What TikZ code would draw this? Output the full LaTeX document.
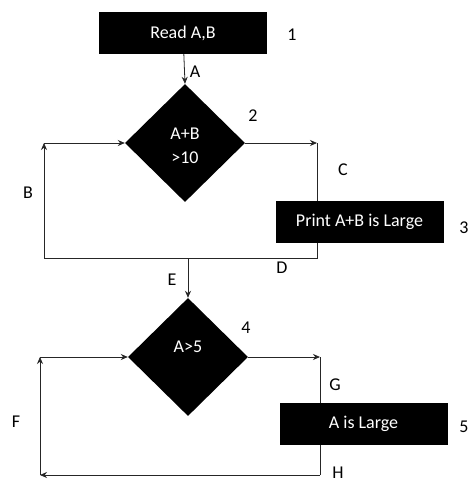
\documentclass[tikz,border=0pt]{standalone}
\usepackage{fontspec}
\setmainfont{Carlito}
\usepackage{tikz}
\usetikzlibrary{arrows.meta}
\usetikzlibrary{shapes.geometric}
\tikzset{
  stepbox/.style = {fill, rectangle, text = white, inner sep = 0,
                    minimum width = 168, minimum height = 42},
  test/.style = {fill, diamond, aspect = 1, inner sep = 0,
                 minimum width = 120, minimum height = 118},
  wtext/.style = {text = white, inner sep = 0},
  tag/.style = {inner sep = 0},
  flow/.style = {draw = black!85, line width = 0.8,
                 -{Stealth[length = 7, width = 6]}},
  wire/.style = {draw = black!85, line width = 0.8}
}

\begin{document}
\begin{tikzpicture}[x = 1pt, y = -1pt, font = \fontsize{18}{21}\selectfont]
    \useasboundingbox [fill = white] (0, 0) rectangle (470, 483);

    % boxes and tests
    \node [stepbox] (read) at (183, 33) {Read A,B};
    \node [test] (dec1) at (185, 143) {};
    \node [wtext, align = center, font = \fontsize{18}{24}\selectfont]
        (t1) at ([yshift = -3]dec1.center) {A+B\\>10};
    \node [stepbox] (print) at (359.5, 222) {Print A+B is Large};
    \node [test] (dec2) at (188, 357) {};
    \node [wtext] (t2) at ([yshift = 10]dec2.center) {A>5};
    \node [stepbox] (large) at (363.5, 424) {A is Large};

    % corners of the loops
    \coordinate (c1) at (317, 143);
    \coordinate (d1) at (317, 258);
    \coordinate (b0) at (44, 258);
    \coordinate (b1) at (44, 143);
    \coordinate (g1) at (320, 357);
    \coordinate (h1) at (320, 475);
    \coordinate (f0) at (40, 475);
    \coordinate (f1) at (40, 357);

    % first loop
    \draw [flow] (read) -- (dec1.north);
    \draw [flow] (dec1.east) -- (c1);
    \draw [wire] (c1) -- (c1 |- print.north);
    \draw [wire] (c1 |- print.south) -- (d1) -- (b0);
    \draw [flow] (b0) -- (b1);
    \draw [flow] (b1) -- (dec1.west);

    % second loop
    \draw [flow] (dec2.north |- d1) -- (dec2.north);
    \draw [flow] (dec2.east) -- (g1);
    \draw [wire] (g1) -- (g1 |- large.north);
    \draw [wire] (g1 |- large.south) -- (h1);
    \draw [flow] (h1) -- (f0);
    \draw [flow] (f0) -- (f1);
    \draw [flow] (f1) -- (dec2.west);

    % step numbers and edge letters
    \node [tag] (n1) at (292, 35) {1};
    \node [tag] (n2) at (253, 116) {2};
    \node [tag] (n3) at (464, 228) {3};
    \node [tag] (n4) at (246, 328) {4};
    \node [tag] (n5) at (464, 427) {5};
    \node [tag] (la) at (195, 72) {A};
    \node [tag] (lb) at (28, 193) {B};
    \node [tag] (lc) at (343, 170) {C};
    \node [tag] (ld) at (282, 268) {D};
    \node [tag] (le) at (172, 280) {E};
    \node [tag] (lf) at (16, 422) {F};
    \node [tag] (lg) at (335, 385) {G};
    \node [tag] (lh) at (338, 473) {H};
\end{tikzpicture}
\end{document}
